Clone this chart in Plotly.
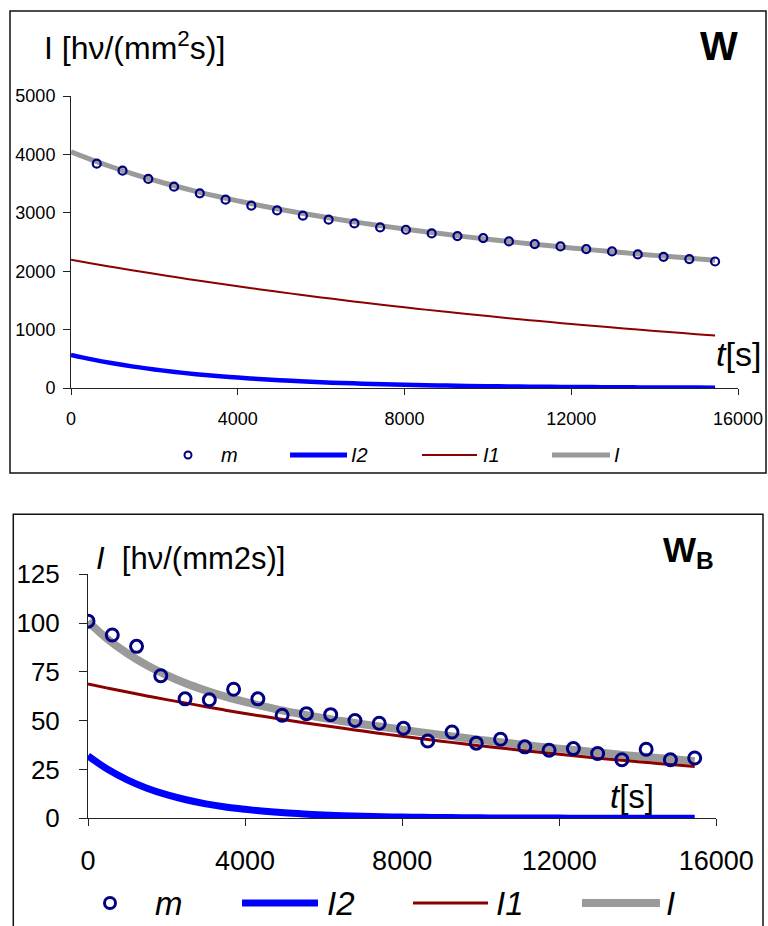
import plotly.graph_objects as go

# ---------------- data ----------------
# measurement times (s)
t_top_m = [618, 1236, 1854, 2472, 3090, 3708, 4326, 4944, 5562, 6180, 6798, 7416,
           8034, 8652, 9270, 9888, 10506, 11124, 11742, 12360, 12978, 13596, 14214, 14832, 15450]
m_top = [3842, 3722, 3580, 3448, 3333, 3225, 3122, 3041, 2950, 2882, 2818, 2750,
         2710, 2647, 2602, 2568, 2510, 2465, 2424, 2379, 2338, 2287, 2247, 2208, 2166]

t_bot_m = [0, 618, 1236, 1854, 2472, 3090, 3708, 4326, 4944, 5562, 6180, 6798, 7416,
           8034, 8652, 9270, 9888, 10506, 11124, 11742, 12360, 12978, 13596, 14214, 14832, 15450]
m_bot = [101.0, 93.9, 88.1, 73.0, 61.2, 60.7, 66.1, 61.2, 52.8, 53.6, 53.1, 50.1, 48.7,
         46.1, 39.6, 44.2, 38.5, 40.5, 36.6, 34.9, 35.7, 33.2, 30.0, 35.4, 30.0, 30.9]

# fitted curves
t_curve = [0, 500, 1000, 1500, 2000, 2500, 3000, 3500, 4000, 4500, 5000, 5500, 6000, 6500,
           7000, 7500, 8000, 8500, 9000, 9500, 10000, 10500, 11000, 11500, 12000, 12500,
           13000, 13500, 14000, 14500, 15000, 15450]

I1_top = [2195, 2132, 2072, 2013, 1955, 1899, 1845, 1793, 1742, 1692, 1644, 1597, 1551, 1507,
          1464, 1422, 1382, 1342, 1304, 1267, 1231, 1196, 1162, 1128, 1096, 1065,
          1035, 1005, 976, 949, 922, 898]
I2_top = [566, 490, 424, 366, 317, 274, 237, 205, 178, 154, 133, 115, 99, 86,
          74, 64, 56, 48, 42, 36, 31, 27, 23, 20, 18, 15,
          13, 11, 10, 8, 7, 6]
I_top = [4046, 3907, 3780, 3664, 3557, 3459, 3367, 3283, 3204, 3130, 3062, 2997, 2936, 2878,
         2823, 2772, 2722, 2676, 2631, 2588, 2547, 2508, 2470, 2434, 2399, 2365,
         2333, 2301, 2271, 2242, 2214, 2189]

I1_bot = [68.8, 66.7, 64.7, 62.7, 60.8, 59.0, 57.2, 55.4, 53.7, 52.1, 50.5, 49.0, 47.5, 46.1,
          44.7, 43.3, 42.0, 40.7, 39.5, 38.3, 37.1, 36.0, 34.9, 33.8, 32.8, 31.8,
          30.8, 29.9, 29.0, 28.1, 27.3, 26.5]
I2_bot = [32.0, 25.1, 19.7, 15.4, 12.1, 9.5, 7.4, 5.8, 4.6, 3.6, 2.8, 2.2, 1.7, 1.3,
          1.1, 0.8, 0.65, 0.5, 0.4, 0.3, 0.24, 0.19, 0.15, 0.12, 0.09, 0.07,
          0.06, 0.04, 0.03, 0.03, 0.02, 0.02]
I_bot = [100.8, 91.8, 84.5, 78.4, 73.4, 69.1, 65.5, 62.3, 59.6, 57.2, 55.0, 53.1, 51.3, 49.7,
         48.2, 46.8, 45.4, 44.0, 42.7, 41.4, 40.1, 39.0, 37.8, 36.7, 35.7, 34.7,
         33.7, 32.7, 31.8, 30.9, 30.1, 29.3]

x_ticks = [0, 4000, 8000, 12000, 16000]
x_tick_text = ["0", "4000", "8000", "12000", "16000"]
y_ticks_top = [0, 1000, 2000, 3000, 4000, 5000]
y_ticks_bot = [0, 25, 50, 75, 100, 125]

# ---------------- styling ----------------
W, H = 768, 926
FONT = "Arial, Liberation Sans, sans-serif"
NAVY, BLUE, RED, GRAY = "#000080", "#0000FF", "#8B0000", "#9A9A9A"


def px(x):
    return x / W


def py(y):
    return 1 - y / H


fig = go.Figure()

# top panel traces
fig.add_trace(go.Scatter(x=t_curve, y=I_top, mode="lines", line=dict(color=GRAY, width=5, shape="spline"),
                         xaxis="x", yaxis="y", showlegend=False, name="I"))
fig.add_trace(go.Scatter(x=t_curve, y=I1_top, mode="lines", line=dict(color=RED, width=2, shape="spline"),
                         xaxis="x", yaxis="y", showlegend=False, name="I1"))
fig.add_trace(go.Scatter(x=t_curve, y=I2_top, mode="lines", line=dict(color=BLUE, width=4.5, shape="spline"),
                         xaxis="x", yaxis="y", showlegend=False, name="I2"))
fig.add_trace(go.Scatter(x=t_top_m, y=m_top, mode="markers",
                         marker=dict(symbol="circle-open", size=8, color=NAVY, line=dict(width=2.2, color=NAVY)),
                         xaxis="x", yaxis="y", showlegend=False, name="m"))

# bottom panel traces
fig.add_trace(go.Scatter(x=t_curve, y=I_bot, mode="lines", line=dict(color=GRAY, width=8, shape="spline"),
                         xaxis="x2", yaxis="y2", showlegend=False, name="I"))
fig.add_trace(go.Scatter(x=t_curve, y=I1_bot, mode="lines", line=dict(color=RED, width=3, shape="spline"),
                         xaxis="x2", yaxis="y2", showlegend=False, name="I1"))
fig.add_trace(go.Scatter(x=t_curve, y=I2_bot, mode="lines", line=dict(color=BLUE, width=7, shape="spline"),
                         xaxis="x2", yaxis="y2", showlegend=False, name="I2"))
fig.add_trace(go.Scatter(x=t_bot_m, y=m_bot, mode="markers",
                         marker=dict(symbol="circle-open", size=12, color=NAVY, line=dict(width=3, color=NAVY)),
                         xaxis="x2", yaxis="y2", showlegend=False, name="m"))

axis_common = dict(showgrid=False, zeroline=False, showline=True, linecolor="#222", linewidth=1,
                   ticks="outside", tickcolor="#222", tickwidth=1, automargin=False)

fig.update_layout(
    width=W, height=H, margin=dict(l=0, r=0, t=0, b=0, autoexpand=False),
    paper_bgcolor="white", plot_bgcolor="white",
    font=dict(family=FONT, color="black"),
    xaxis=dict(domain=[px(71), px(738)], range=[0, 16000], tickvals=x_ticks, ticktext=x_tick_text,
               anchor="y", ticklen=6, tickfont=dict(size=18), ticklabelstandoff=8, **axis_common),
    yaxis=dict(domain=[py(388), py(96)], range=[0, 5000], tickvals=y_ticks_top, anchor="x",
               ticklen=7, tickfont=dict(size=18), ticklabelstandoff=4, **axis_common),
    xaxis2=dict(domain=[px(88), px(716.3)], range=[0, 16000], tickvals=x_ticks, ticktext=x_tick_text,
                anchor="y2", ticklen=7, tickfont=dict(size=27), ticklabelstandoff=11, **axis_common),
    yaxis2=dict(domain=[py(818.3), py(574.3)], range=[0, 125], tickvals=y_ticks_bot, anchor="x2",
                ticklen=8, tickfont=dict(size=26), ticklabelstandoff=14, **axis_common),
)

shapes = []
# panel borders (bottom panel is open at the page edge)
shapes.append(dict(type="rect", xref="paper", yref="paper", x0=px(10), x1=px(766), y0=py(473), y1=py(11),
                   line=dict(color="#111", width=1.5), fillcolor="rgba(0,0,0,0)"))
shapes.append(dict(type="path", xref="paper", yref="paper",
                   path="M {0},{1} L {0},{2} L {3},{2} L {3},{1}".format(px(13.3), 0, py(514.3), px(763)),
                   line=dict(color="#111", width=1.5)))

annotations = []


def text(x, y, s, size, xanchor="left", yanchor="middle"):
    annotations.append(dict(x=px(x), y=py(y), xref="paper", yref="paper", text=s, showarrow=False,
                            xanchor=xanchor, yanchor=yanchor, font=dict(size=size, family=FONT, color="black")))


# titles / labels
text(42, 46, "I [hν/(mm<sup>2</sup>s)]", 32)
text(719, 46, "<b>W</b>", 40, xanchor="center")
text(94, 558, "<i>I</i>  [hν/(mm2s)]", 31)
text(661, 552, "<b>W<sub>B</sub></b>", 35)
text(714, 354, "<i>t</i>[s]", 34)
text(608, 796, "<i>t</i>[s]", 33)


# manual legends
def legend(yc, items, msize, mwidth, fsize):
    for it in items:
        kind = it[0]
        if kind == "m":
            _, xc, xt = it
            r = msize / 2
            shapes.append(dict(type="circle", xref="paper", yref="paper", x0=px(xc - r), x1=px(xc + r),
                               y0=py(yc + r), y1=py(yc - r), line=dict(color=NAVY, width=mwidth)))
            text(xt, yc, "<i>m</i>", fsize)
        else:
            _, x0, x1, color, width, xt, label = it
            shapes.append(dict(type="line", xref="paper", yref="paper", x0=px(x0), x1=px(x1),
                               y0=py(yc), y1=py(yc), line=dict(color=color, width=width)))
            text(xt, yc, "<i>" + label + "</i>", fsize)


legend(455, [("m", 188, 219),
             ("l", 290, 347, BLUE, 5, 349, "I2"),
             ("l", 422, 477, RED, 2, 481, "I1"),
             ("l", 552, 610, GRAY, 5, 612, "I")], 7, 2, 20)
legend(903, [("m", 110, 153),
             ("l", 242, 318, BLUE, 7, 325, "I2"),
             ("l", 413, 488, RED, 3, 494, "I1"),
             ("l", 582, 660, GRAY, 8, 664, "I")], 11, 3, 33)

fig.update_layout(shapes=shapes, annotations=annotations)

# place the 768x926 figure at the window corner, without page margins
pin = ("document.documentElement.style.margin='0';document.body.style.margin='0';"
       "document.documentElement.style.overflow='hidden';document.body.style.overflow='hidden';")
fig.write_html("out.html", config={"displayModeBar": False}, post_script=pin)
